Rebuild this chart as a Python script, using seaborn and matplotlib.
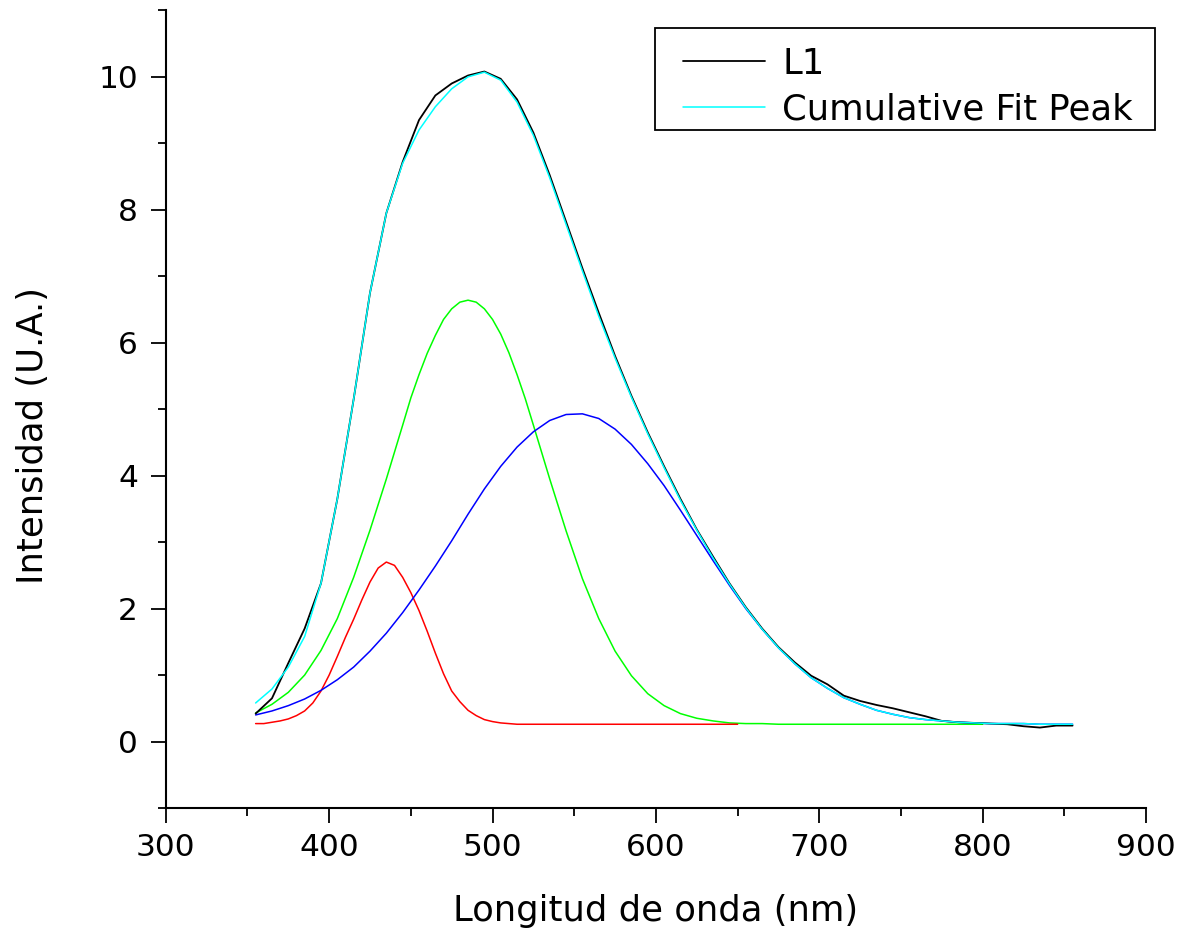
import numpy as np
import pandas as pd
import seaborn as sns
import matplotlib
matplotlib.use('Agg')
from matplotlib import pyplot as plt
from matplotlib.ticker import MultipleLocator
from matplotlib.patches import Rectangle

# sampled wavelengths (nm)
wl = list(range(355, 856, 10))
wl_red = list(range(355, 651, 5))
wl_green = list(range(355, 446, 10)) + list(range(450, 521, 5)) + list(range(525, 796, 10)) + [800]

l1 = [0.42, 0.65, 1.18, 1.70, 2.38, 3.65, 5.15, 6.75, 7.95, 8.72,
      9.35, 9.72, 9.90, 10.02, 10.08, 9.97, 9.66, 9.16, 8.52, 7.82,
      7.12, 6.45, 5.80, 5.20, 4.65, 4.14, 3.65, 3.19, 2.78, 2.38,
      2.02, 1.70, 1.42, 1.19, 0.99, 0.86, 0.69, 0.61, 0.55, 0.50,
      0.44, 0.38, 0.31, 0.29, 0.28, 0.27, 0.26, 0.23, 0.21, 0.24, 0.24]

cumulative = [0.58, 0.79, 1.12, 1.58, 2.38, 3.65, 5.15, 6.75, 7.95, 8.70,
              9.20, 9.55, 9.82, 10.00, 10.07, 9.95, 9.62, 9.12, 8.48, 7.78,
              7.08, 6.40, 5.77, 5.18, 4.63, 4.12, 3.63, 3.18, 2.76, 2.37,
              2.01, 1.69, 1.41, 1.17, 0.96, 0.80, 0.66, 0.56, 0.47, 0.41,
              0.36, 0.33, 0.31, 0.29, 0.28, 0.27, 0.27, 0.27, 0.26, 0.26, 0.26]

peak_red = [0.27, 0.27, 0.29, 0.31, 0.34, 0.39, 0.46, 0.58, 0.76, 1.00,
            1.28, 1.57, 1.84, 2.13, 2.40, 2.61, 2.70, 2.65, 2.47, 2.24,
            1.97, 1.66, 1.33, 1.02, 0.76, 0.60, 0.47, 0.39, 0.33, 0.30,
            0.28, 0.27, 0.26, 0.26, 0.26, 0.26, 0.26, 0.26, 0.26, 0.26,
            0.26, 0.26, 0.26, 0.26, 0.26, 0.26, 0.26, 0.26, 0.26, 0.26,
            0.26, 0.26, 0.26, 0.26, 0.26, 0.26, 0.26, 0.26, 0.26, 0.26]

peak_green = [0.43, 0.56, 0.74, 1.00, 1.37, 1.85, 2.47, 3.18, 3.95, 4.76,
              5.17, 5.52, 5.84, 6.11, 6.35, 6.51, 6.61, 6.64, 6.61, 6.51,
              6.35, 6.13, 5.85, 5.52, 5.16,
              4.76, 3.95, 3.17, 2.45, 1.85, 1.36, 0.99, 0.72, 0.54, 0.42,
              0.35, 0.31, 0.28, 0.27, 0.27, 0.26, 0.26, 0.26, 0.26, 0.26,
              0.26, 0.26, 0.26, 0.26, 0.26, 0.26, 0.26, 0.26, 0.26]

peak_blue = [0.40, 0.46, 0.54, 0.64, 0.77, 0.93, 1.12, 1.36, 1.63, 1.94,
             2.28, 2.64, 3.02, 3.42, 3.80, 4.14, 4.43, 4.66, 4.83, 4.92,
             4.93, 4.86, 4.70, 4.47, 4.18, 3.85, 3.48, 3.10, 2.72, 2.35,
             2.00, 1.69, 1.41, 1.17, 0.96, 0.80, 0.66, 0.56, 0.47, 0.41,
             0.36, 0.33, 0.31, 0.29, 0.28, 0.27, 0.27, 0.27, 0.26, 0.26, 0.26]

sns.set_style('ticks')
plt.rcParams['font.family'] = ['DejaVu Sans']
plt.rcParams['text.color'] = 'black'
plt.rcParams['axes.labelcolor'] = 'black'

fig = plt.figure(figsize=(11.84, 9.34), dpi=100)
ax = fig.add_axes([0.140, 0.1349, 0.828, 0.854])

lw = 1.1
sns.lineplot(x=wl_green, y=peak_green, ax=ax, color='#00FF00', lw=lw, zorder=2)
sns.lineplot(x=wl_red, y=peak_red, ax=ax, color='#FF0000', lw=lw, zorder=2)
sns.lineplot(x=wl, y=peak_blue, ax=ax, color='#0000FF', lw=lw, zorder=2)
sns.lineplot(x=wl, y=l1, ax=ax, color='black', lw=1.3, zorder=3)
sns.lineplot(x=wl, y=cumulative, ax=ax, color='#00FFFF', lw=lw, zorder=4)

lines = ax.get_lines()
h_l1 = lines[3]
h_cum = lines[4]

ax.set_xlim(300, 900)
ax.set_ylim(-1, 11)
ax.xaxis.set_major_locator(MultipleLocator(100))
ax.xaxis.set_minor_locator(MultipleLocator(50))
ax.yaxis.set_major_locator(MultipleLocator(2))
ax.yaxis.set_minor_locator(MultipleLocator(1))

for s in ['top', 'right']:
    ax.spines[s].set_visible(False)
for s in ['left', 'bottom']:
    ax.spines[s].set_linewidth(1.5)
    ax.spines[s].set_color('black')

ax.tick_params(which='major', direction='out', length=11, width=1.3,
               labelsize=22.5, colors='black')
ax.tick_params(which='minor', direction='out', length=6, width=1.3, colors='black')
ax.tick_params(axis='x', which='major', pad=7)
ax.tick_params(axis='y', which='major', pad=9)

ax.set_xlabel('Longitud de onda (nm)', fontsize=25.5)
ax.set_ylabel('Intensidad (U.A.)', fontsize=25.5)
ax.xaxis.set_label_coords(0.5, -0.108)
ax.yaxis.set_label_coords(-0.118, 0.467)

# legend: entries without frame, box drawn separately
leg = ax.legend([h_l1, h_cum], ['L1', 'Cumulative Fit Peak'],
                loc='upper left', bbox_to_anchor=(0.5277, 0.9545),
                fontsize=25.5, frameon=False,
                borderaxespad=0, borderpad=0, handlelength=2.3,
                handletextpad=0.5, labelspacing=0.34)
fig.patches.append(Rectangle((655 / 1184, 1 - 130 / 934), 500 / 1184, 102 / 934,
                             transform=fig.transFigure, fill=False,
                             edgecolor='black', linewidth=1.3, zorder=5))

fig.savefig('out.png', dpi=100)
